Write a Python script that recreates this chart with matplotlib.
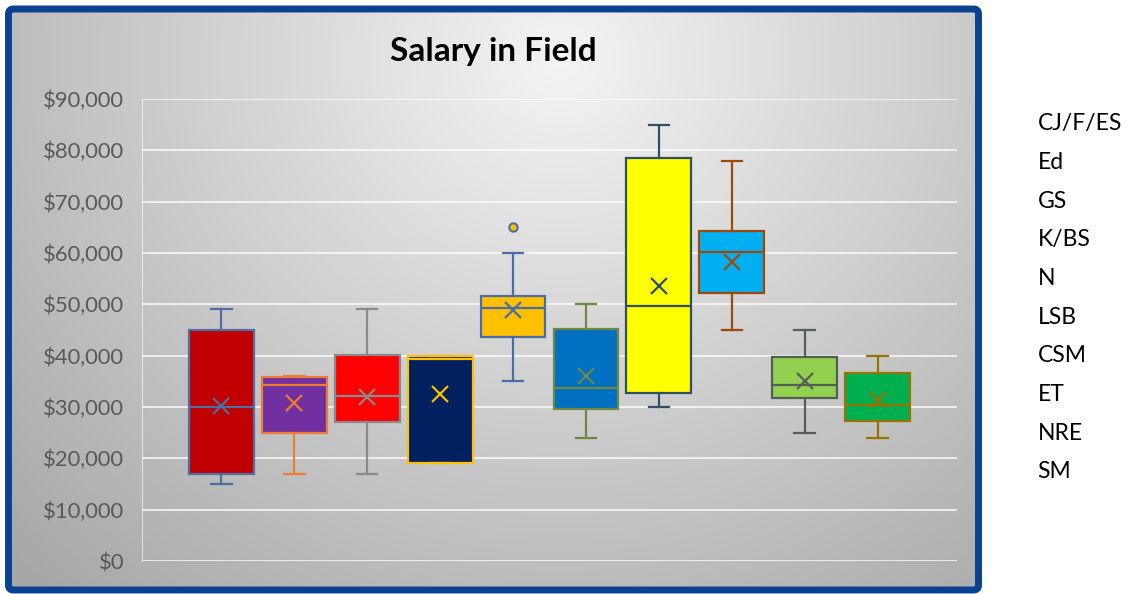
import numpy as np
import matplotlib
matplotlib.use("Agg")
import matplotlib.pyplot as plt
from matplotlib.patches import FancyBboxPatch, Patch
from matplotlib.ticker import FuncFormatter

plt.rcParams['font.family'] = ['Lato', 'DejaVu Sans']

# Salary statistics per field
fields = ['CJ/F/ES', 'Ed', 'GS', 'K/BS', 'N', 'LSB', 'CSM', 'ET', 'NRE', 'SM']
whis_lo = [15000, 17000, 17000, 19000, 35000, 24000, 30000, 45000, 25000, 24000]
q1 = [17000, 25000, 27000, 19000, 43700, 29700, 32700, 52300, 31700, 27200]
median = [30000, 34200, 32200, 39300, 49200, 33700, 49600, 60200, 34200, 30300]
q3 = [45000, 35800, 40200, 40000, 51700, 45200, 78600, 64200, 39700, 36600]
whis_hi = [49000, 36000, 49000, 40000, 60000, 50000, 85000, 78000, 45000, 40000]
mean = [30200, 30800, 32000, 32600, 48800, 36100, 53600, 58200, 35000, 31400]
outliers = [[], [], [], [], [65000], [], [], [], [], []]

fills = ['#C00000', '#7030A0', '#FF0000', '#002060', '#FFC000',
         '#0070C0', '#FFFF00', '#00B0F0', '#92D050', '#00B050']
edges = ['#4F6FA3', '#ED7D31', '#8A8A8A', '#FFC000', '#4A6CA8',
         '#6E8A40', '#2F4F63', '#9E480E', '#555E55', '#997300']

W, H = 1129, 594
fig = plt.figure(figsize=(W / 100, H / 100), dpi=100, facecolor='white')

# gradient background of the chart area
bx0, by0, bx1, by1 = 8, 8, 979, 590
bg = fig.add_axes([bx0 / W, 1 - by1 / H, (bx1 - bx0) / W, (by1 - by0) / H], zorder=0)
xx, yy = np.meshgrid(np.arange(bx0, bx1), np.arange(by0, by1))
r = np.sqrt(((xx - 560) / 700.0) ** 2 + ((yy - 60) / 650.0) ** 2)
shade = (244 - 70 * np.clip(r, 0, 1.1)) / 255.0
img = np.dstack([shade, shade, shade])
bg.imshow(img, aspect='auto', interpolation='bilinear')
bg.axis('off')

# dark blue rounded frame
frame = FancyBboxPatch((8.5 / 100, (H - 590) / 100), 970 / 100, 581 / 100,
                       boxstyle="round,pad=0,rounding_size=0.05",
                       transform=fig.dpi_scale_trans, fill=False,
                       edgecolor='#0B4290', linewidth=5, zorder=5)
fig.patches.append(frame)

ax = fig.add_axes([142 / W, (H - 561) / H, (957 - 142) / W, (561 - 99) / H], zorder=2)
ax.patch.set_alpha(0)

for i, name in enumerate(fields):
    stats = [dict(whislo=whis_lo[i], q1=q1[i], med=median[i], q3=q3[i],
                  whishi=whis_hi[i], mean=mean[i], fliers=outliers[i], label=name)]
    ec = edges[i]
    ax.bxp(stats, positions=[i], widths=0.89, capwidths=0.28, patch_artist=True,
           showmeans=True, manage_ticks=False,
           boxprops=dict(facecolor=fills[i], edgecolor=ec, linewidth=1.6),
           medianprops=dict(color=ec, linewidth=1.6),
           whiskerprops=dict(color=ec, linewidth=1.6),
           capprops=dict(color=ec, linewidth=1.6),
           meanprops=dict(marker='x', markeredgecolor=ec, markersize=12,
                          markeredgewidth=1.6),
           flierprops=dict(marker='o', markerfacecolor=fills[i], markeredgecolor=ec,
                           markersize=6, markeredgewidth=1.5))

ax.set_ylim(0, 90000)
ax.set_xlim(-1.09, 10.09)
ax.set_yticks(np.arange(0, 90001, 10000))
ax.yaxis.set_major_formatter(FuncFormatter(lambda v, p: '${:,.0f}'.format(v)))
ax.tick_params(axis='y', length=0, pad=13, labelsize=15.8, labelcolor='#595959')
ax.set_xticks([])
ax.grid(axis='y', color='white', linewidth=1.3, alpha=0.8)
ax.set_axisbelow(True)
for s in ['top', 'right', 'bottom']:
    ax.spines[s].set_visible(False)
ax.spines['left'].set_color('white')
ax.spines['left'].set_alpha(0.6)

fig.text(493 / W, 1 - 52 / H, 'Salary in Field', ha='center', va='center',
         fontsize=24, fontweight='bold', color='black')

handles = [Patch(visible=False) for _ in fields]
fig.legend(handles, fields, loc='upper left', bbox_to_anchor=(1026 / W, 1 - 102 / H),
           frameon=False, handlelength=0, handletextpad=0, fontsize=16.5,
           labelspacing=0.77, borderpad=0)

fig.savefig('out.png', dpi=100, facecolor='white')
